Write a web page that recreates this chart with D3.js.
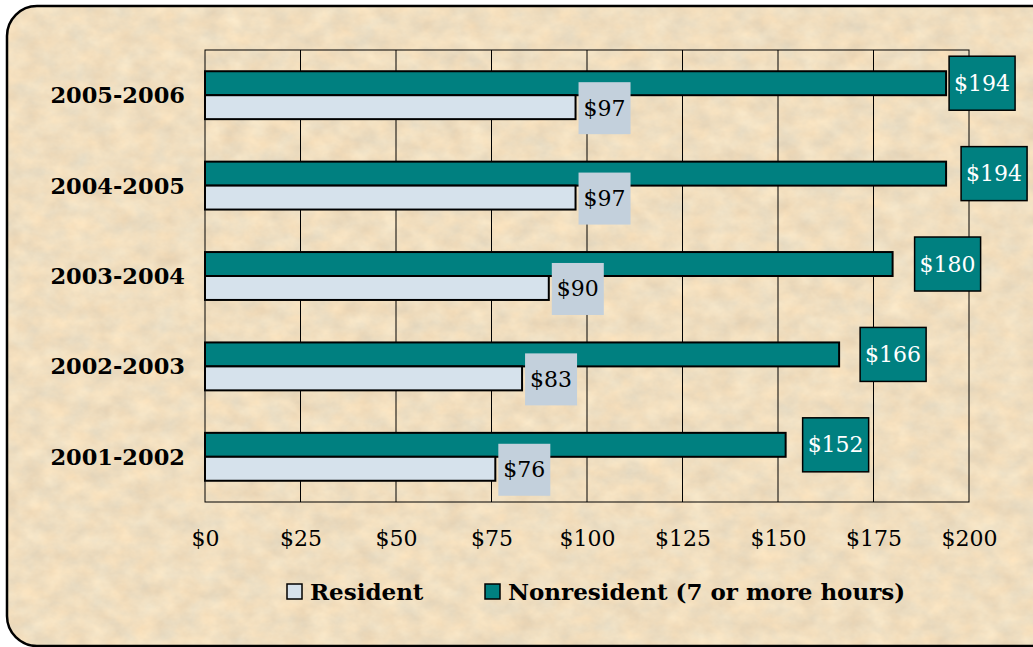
<!DOCTYPE html>
<html>
<head>
<meta charset="utf-8">
<script src="https://cdn.jsdelivr.net/npm/d3@7"></script>
<style>
  html, body { margin: 0; padding: 0; background: #ffffff; }
  svg { display: block; }
</style>
</head>
<body>
<script>
// chart data
const years = ["2005-2006", "2004-2005", "2003-2004", "2002-2003", "2001-2002"];
const resident = [97, 97, 90, 83, 76];
const nonresident = [194, 194, 180, 166, 152];
const seriesNames = ["Resident", "Nonresident (7 or more hours)"];
const tickValues = [0, 25, 50, 75, 100, 125, 150, 175, 200];

// label nudges (Excel put the nonresident labels a bit off the bar end)
const nonresNudge = [3, 15, 22, 21, 17];

const width = 1033, height = 647;
const plot = { left: 205, right: 969, top: 50, bottom: 502 };
const serif = "'DejaVu Serif', 'Liberation Serif', serif";
const teal = "#008080";
const pale = "#d6e2ec";
const paleBox = "#c3d0dc";

const svg = d3.select("body").append("svg")
  .attr("width", width)
  .attr("height", height);

const defs = svg.append("defs");

// parchment texture
const filt = defs.append("filter")
  .attr("id", "parchment")
  .attr("filterUnits", "userSpaceOnUse")
  .attr("color-interpolation-filters", "sRGB")
  .attr("x", 0).attr("y", 0).attr("width", width).attr("height", height);
filt.append("feTurbulence")
  .attr("type", "fractalNoise")
  .attr("baseFrequency", "0.045 0.06")
  .attr("numOctaves", 4)
  .attr("seed", 7)
  .attr("result", "n1");
filt.append("feColorMatrix")
  .attr("in", "n1")
  .attr("type", "matrix")
  .attr("values", "0.12 0 0 0 0.88  0.09 0.05 0 0 0.80  0.05 0.09 0 0 0.68  0 0 0 0 1");

defs.append("clipPath").attr("id", "frameClip")
  .append("rect")
  .attr("x", 7).attr("y", 6)
  .attr("width", 1060).attr("height", 640)
  .attr("rx", 30).attr("ry", 30);

svg.append("rect")
  .attr("x", 0).attr("y", 0)
  .attr("width", width).attr("height", height)
  .attr("fill", "#eedcb8")
  .attr("filter", "url(#parchment)")
  .attr("clip-path", "url(#frameClip)");

svg.append("rect")
  .attr("x", 7).attr("y", 6)
  .attr("width", 1060).attr("height", 640)
  .attr("rx", 30).attr("ry", 30)
  .attr("fill", "none")
  .attr("stroke", "#000")
  .attr("stroke-width", 2.5);

// scales
const x = d3.scaleLinear().domain([0, 200]).range([plot.left, plot.right]);
const y = d3.scaleBand().domain(years)
  .range([plot.top, plot.bottom])
  .paddingInner(0.47)
  .paddingOuter(0.235);
const sub = d3.scaleBand().domain(["non", "res"]).range([0, y.bandwidth()]);

// gridlines + plot frame
svg.append("g")
  .selectAll("line")
  .data(tickValues.slice(1, -1))
  .join("line")
  .attr("x1", d => x(d)).attr("x2", d => x(d))
  .attr("y1", plot.top).attr("y2", plot.bottom)
  .attr("stroke", "#000").attr("stroke-width", 1);

svg.append("rect")
  .attr("x", plot.left).attr("y", plot.top)
  .attr("width", plot.right - plot.left)
  .attr("height", plot.bottom - plot.top)
  .attr("fill", "none")
  .attr("stroke", "#000").attr("stroke-width", 1);

// x axis tick labels
const xAxis = svg.append("g")
  .attr("transform", `translate(0,${plot.bottom})`)
  .call(d3.axisBottom(x).tickValues(tickValues).tickSize(0).tickPadding(28)
    .tickFormat(d => "$" + d));
xAxis.select(".domain").remove();
xAxis.selectAll("text")
  .attr("font-family", serif)
  .attr("font-size", 22)
  .attr("fill", "#000");

// category labels
svg.append("g")
  .selectAll("text")
  .data(years)
  .join("text")
  .attr("x", 185)
  .attr("y", d => y(d) + y.bandwidth() / 2)
  .attr("text-anchor", "end")
  .attr("dominant-baseline", "central")
  .attr("font-family", serif)
  .attr("font-weight", "bold")
  .attr("font-size", 22.5)
  .text(d => d);

// bars
const rows = years.map((yr, i) => ({ yr, i, res: resident[i], non: nonresident[i] }));

const bars = svg.append("g");
bars.selectAll("rect.non")
  .data(rows)
  .join("rect")
  .attr("class", "non")
  .attr("x", x(0))
  .attr("y", d => y(d.yr) + sub("non"))
  .attr("width", d => x(d.non) - x(0))
  .attr("height", sub.bandwidth())
  .attr("fill", teal)
  .attr("stroke", "#000")
  .attr("stroke-width", 2);

bars.selectAll("rect.res")
  .data(rows)
  .join("rect")
  .attr("class", "res")
  .attr("x", x(0))
  .attr("y", d => y(d.yr) + sub("res"))
  .attr("width", d => x(d.res) - x(0))
  .attr("height", sub.bandwidth())
  .attr("fill", pale)
  .attr("stroke", "#000")
  .attr("stroke-width", 2);

// data labels in boxes
function addLabel(g, txt, left, cy, boxH, fill, stroke, textFill) {
  const t = g.append("text")
    .attr("font-family", serif)
    .attr("font-size", 22)
    .attr("fill", textFill)
    .attr("dominant-baseline", "central")
    .text(txt);
  const w = t.node().getComputedTextLength() + 10;
  g.insert("rect", "text")
    .attr("x", left).attr("y", cy - boxH / 2)
    .attr("width", w).attr("height", boxH)
    .attr("fill", fill)
    .attr("stroke", stroke)
    .attr("stroke-width", stroke === "none" ? 0 : 1.5);
  t.attr("x", left + 5).attr("y", cy);
}

rows.forEach(d => {
  const gRes = svg.append("g");
  addLabel(gRes, "$" + d.res, x(d.res) + 3,
    y(d.yr) + sub("res") + sub.bandwidth() / 2 + 1, 52, paleBox, "none", "#000");
  const gNon = svg.append("g");
  addLabel(gNon, "$" + d.non, x(d.non) + nonresNudge[d.i],
    y(d.yr) + sub("non") + sub.bandwidth() / 2, 54, teal, "#000", "#fff");
});

// legend
const legend = svg.append("g");
const legendX = [287, 485];
const legendFill = [pale, teal];
seriesNames.forEach((name, i) => {
  legend.append("rect")
    .attr("x", legendX[i]).attr("y", 584)
    .attr("width", 15).attr("height", 15)
    .attr("fill", legendFill[i])
    .attr("stroke", "#000")
    .attr("stroke-width", 1.5);
  legend.append("text")
    .attr("x", legendX[i] + 23).attr("y", 600)
    .attr("font-family", serif)
    .attr("font-weight", "bold")
    .attr("font-size", 23)
    .text(name);
});
</script>
</body>
</html>
